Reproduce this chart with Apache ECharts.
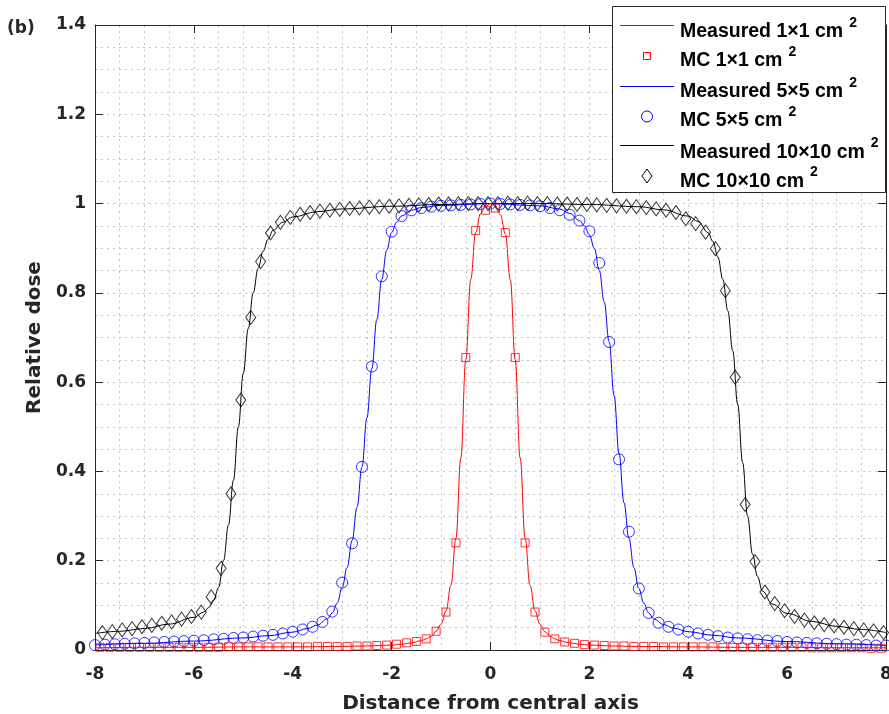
<!DOCTYPE html>
<html>
<head>
<meta charset="utf-8">
<script src="https://cdn.jsdelivr.net/npm/echarts@6/dist/echarts.min.js"></script>
<style>html,body{margin:0;padding:0;background:#fff;}#c{width:889px;height:714px;}</style>
</head>
<body>
<div id="c"></div>
<script>
// ---------- data ----------
const xTicks = [-8, -6, -4, -2, 0, 2, 4, 6, 8];
const yTicks = [0, 0.2, 0.4, 0.6, 0.8, 1, 1.2, 1.4];

const names = ['Measured 1×1 cm2', 'MC 1×1 cm2', 'Measured 5×5 cm2', 'MC 5×5 cm2', 'Measured 10×10 cm2', 'MC 10×10 cm2'];

// Measured 1x1
const xMeas1 = [-8,-7,-6,-5,-4,-3,-2.5,-2,-1.8,-1.6,-1.4,-1.3,-1.2,-1.1,-1.0,-0.9,-0.8,-0.7,-0.6,-0.5,-0.4,-0.3,-0.2,-0.1,0,0.1,0.2,0.3,0.4,0.5,0.6,0.7,0.8,0.9,1.0,1.1,1.2,1.3,1.4,1.6,1.8,2,2.5,3,4,5,6,7,8];
const yMeas1 = [0.005,0.006,0.006,0.007,0.007,0.008,0.009,0.011,0.013,0.016,0.021,0.025,0.031,0.042,0.058,0.088,0.145,0.25,0.43,0.65,0.83,0.935,0.978,0.994,1.0,0.995,0.975,0.932,0.83,0.65,0.43,0.25,0.145,0.088,0.058,0.041,0.031,0.025,0.021,0.016,0.013,0.011,0.009,0.008,0.007,0.006,0.006,0.005,0.005];

// MC 1x1
const xMC1 = [-7.9,-7.7,-7.5,-7.3,-7.1,-6.9,-6.7,-6.5,-6.3,-6.1,-5.9,-5.7,-5.5,-5.3,-5.1,-4.9,-4.7,-4.5,-4.3,-4.1,-3.9,-3.7,-3.5,-3.3,-3.1,-2.9,-2.7,-2.5,-2.3,-2.1,-1.9,-1.7,-1.5,-1.3,-1.1,-0.9,-0.7,-0.5,-0.3,-0.1,0.1,0.3,0.5,0.7,0.9,1.1,1.3,1.5,1.7,1.9,2.1,2.3,2.5,2.7,2.9,3.1,3.3,3.5,3.7,3.9,4.1,4.3,4.5,4.7,4.9,5.1,5.3,5.5,5.7,5.9,6.1,6.3,6.5,6.7,6.9,7.1,7.3,7.5,7.7,7.9];
const yMC1 = [0.006,0.006,0.006,0.006,0.006,0.006,0.006,0.006,0.006,0.006,
              0.006,0.006,0.006,0.007,0.007,0.007,0.007,0.007,0.007,0.007,
              0.007,0.007,0.008,0.008,0.008,0.008,0.009,0.009,0.010,0.011,
              0.013,0.016,0.019,0.025,0.042,0.085,0.24,0.655,0.94,0.985,
              0.99,0.935,0.655,0.24,0.085,0.04,0.025,0.018,0.015,0.012,
              0.011,0.010,0.009,0.009,0.008,0.008,0.008,0.007,0.007,0.007,
              0.007,0.007,0.007,0.006,0.006,0.006,0.006,0.006,0.006,0.006,
              0.006,0.006,0.005,0.005,0.005,0.005,0.005,0.005,0.004,0.004];

// Measured 5x5
const xMeas5 = [-8,-7,-6,-5,-4.5,-4,-3.7,-3.5,-3.3,-3.2,-3.1,-3.0,-2.9,-2.8,-2.7,-2.6,-2.5,-2.4,-2.3,-2.2,-2.1,-2.0,-1.9,-1.8,-1.6,-1.4,-1.0,0,1.0,1.4,1.6,1.8,1.9,2.0,2.1,2.2,2.3,2.4,2.5,2.6,2.7,2.8,2.9,3.0,3.1,3.2,3.3,3.5,3.7,4.0,4.5,5,6,7,8];
const yMeas5 = [0.011,0.015,0.020,0.027,0.032,0.040,0.048,0.056,0.070,0.083,0.105,0.14,0.185,0.245,0.32,0.41,0.52,0.63,0.74,0.83,0.895,0.935,0.958,0.972,0.985,0.991,0.996,1.0,0.995,0.988,0.978,0.962,0.95,0.93,0.9,0.85,0.78,0.69,0.57,0.44,0.33,0.25,0.185,0.138,0.105,0.083,0.07,0.057,0.049,0.041,0.033,0.027,0.019,0.014,0.010];

// MC 5x5
const xMC5 = [-8,-7.8,-7.6,-7.4,-7.2,-7,-6.8,-6.6,-6.4,-6.2,-6,-5.8,-5.6,-5.4,-5.2,-5,-4.8,-4.6,-4.4,-4.2,-4,-3.8,-3.6,-3.4,-3.2,-3,-2.8,-2.6,-2.4,-2.2,-2,-1.8,-1.6,-1.4,-1.2,-1,-0.8,-0.6,-0.4,-0.2,0,0.2,0.4,0.6,0.8,1,1.2,1.4,1.6,1.8,2,2.2,2.4,2.6,2.8,3,3.2,3.4,3.6,3.8,4,4.2,4.4,4.6,4.8,5,5.2,5.4,5.6,5.8,6,6.2,6.4,6.6,6.8,7,7.2,7.4,7.6,7.8,8];
const yMC5 = [0.011,0.012,0.013,0.014,0.015,0.016,0.017,0.018,0.019,0.020,
              0.021,0.022,0.024,0.025,0.027,0.028,0.030,0.032,0.034,0.037,
              0.041,0.046,0.052,0.063,0.086,0.151,0.239,0.41,0.635,0.837,
              0.937,0.972,0.985,0.99,0.993,0.995,0.996,0.997,0.998,0.999,
              1.0,0.999,0.998,0.997,0.996,0.994,0.99,0.985,0.975,0.962,
              0.938,0.867,0.69,0.427,0.265,0.138,0.083,0.061,0.052,0.046,
              0.041,0.037,0.034,0.031,0.028,0.026,0.024,0.022,0.021,0.020,
              0.018,0.017,0.016,0.015,0.014,0.013,0.012,0.012,0.011,0.010,0.010];

// Measured 10x10
const xMeas10 = [-8,-7.5,-7,-6.5,-6,-5.8,-5.7,-5.6,-5.5,-5.4,-5.3,-5.2,-5.1,-5.0,-4.9,-4.8,-4.7,-4.6,-4.5,-4.4,-4.2,-4.0,-3.5,-3,-2,-1,0,1,2,3,3.5,4,4.2,4.4,4.5,4.6,4.7,4.8,4.9,5.0,5.1,5.2,5.3,5.4,5.5,5.7,6,6.5,7,7.5,8];
const yMeas10 = [0.037,0.042,0.048,0.058,0.073,0.085,0.095,0.112,0.14,0.2,0.28,0.38,0.5,0.62,0.72,0.8,0.855,0.893,0.92,0.94,0.958,0.97,0.982,0.988,0.994,0.998,1.0,1.0,0.998,0.993,0.986,0.972,0.96,0.935,0.915,0.88,0.83,0.76,0.67,0.55,0.42,0.3,0.215,0.165,0.132,0.103,0.082,0.064,0.053,0.046,0.039];

// MC 10x10
const xMC10 = [-7.85,-7.65,-7.45,-7.25,-7.05,-6.85,-6.65,-6.45,-6.25,-6.05,-5.85,-5.65,-5.45,-5.25,-5.05,-4.85,-4.65,-4.45,-4.25,-4.05,-3.85,-3.65,-3.45,-3.25,-3.05,-2.85,-2.65,-2.45,-2.25,-2.05,-1.85,-1.65,-1.45,-1.25,-1.05,-0.85,-0.65,-0.45,-0.25,-0.05,0.15,0.35,0.55,0.75,0.95,1.15,1.35,1.55,1.75,1.95,2.15,2.35,2.55,2.75,2.95,3.15,3.35,3.55,3.75,3.95,4.15,4.35,4.55,4.75,4.95,5.15,5.35,5.55,5.75,5.95,6.15,6.35,6.55,6.75,6.95,7.15,7.35,7.55,7.75,7.95];
const yMC10 = [0.039,0.041,0.045,0.048,0.052,0.055,0.060,0.063,0.069,0.075,
               0.085,0.119,0.183,0.35,0.56,0.745,0.87,0.934,0.958,0.969,
               0.976,0.980,0.983,0.985,0.987,0.989,0.990,0.992,0.993,0.994,
               0.995,0.996,0.997,0.998,0.999,0.999,1.0,1.0,1.0,1.0,
               1.0,1.001,1.0,1.001,1.0,1.0,0.999,0.999,0.998,0.998,
               0.997,0.996,0.995,0.994,0.993,0.991,0.988,0.985,0.980,0.966,
               0.955,0.936,0.899,0.805,0.611,0.326,0.198,0.130,0.104,0.088,
               0.075,0.067,0.061,0.057,0.054,0.051,0.048,0.045,0.043,0.039];

// ---------- build ----------
const pairs = (xs, ys) => xs.map((x, i) => [x, ys[i]]);
const TXT = '#262626';
const tickFont = {fontFamily: 'DejaVu Sans', fontWeight: 'bold', fontSize: 17, color: TXT};
const gridLine = {lineStyle: {color: '#c4c4c4', width: 1, type: [2, 4]}};

function lineSeries(name, xs, ys, color) {
  return {type: 'line', name, data: pairs(xs, ys), symbol: 'none', smooth: 0.4, smoothMonotone: 'x',
          lineStyle: {color, width: 1}, itemStyle: {color}, silent: true};
}
function mcSeries(name, xs, ys, color, symbol, size) {
  return {type: 'scatter', name, data: pairs(xs, ys), symbol, symbolSize: size,
          itemStyle: {color: 'rgba(255,255,255,0)', borderColor: color, borderWidth: 1}, silent: true};
}

// legend box (drawn as graphic so that sample sizes match the figure)
const LEG_X = 620, LEG_W = 54, LEG_TX = 680;
const legRows = [32, 61, 92, 121, 152.5, 181.5];
const legFont = 'Liberation Sans, Arial, sans-serif';
function legText(name, y) {
  return {type: 'text', z: 11, x: LEG_TX, y, silent: true,
          style: {text: name.replace(/cm2$/, 'cm{sup|2}'), fill: '#000', fontFamily: legFont, fontWeight: 'bold', fontSize: 19.5,
                  verticalAlign: 'middle', align: 'left',
                  rich: {sup: {fontFamily: legFont, fontWeight: 'bold', fontSize: 14, fill: '#000', padding: [0, 0, 18, 6]}}}};
}
const legendGraphic = [
  {type: 'rect', z: 10, silent: true, shape: {x: 612.5, y: 6.5, width: 273, height: 186},
   style: {fill: '#fff', stroke: '#262626', lineWidth: 1}},
  {type: 'rect', z: 12, silent: true, shape: {x: LEG_X, y: 25, width: LEG_W, height: 1}, style: {fill: '#ff0000'}},
  {type: 'rect', z: 11, silent: true, shape: {x: 643.5, y: 52.5, width: 7, height: 7}, style: {fill: 'none', stroke: '#ff0000', lineWidth: 1}},
  {type: 'rect', z: 12, silent: true, shape: {x: LEG_X, y: 86, width: LEG_W, height: 1}, style: {fill: '#0000ff'}},
  {type: 'circle', z: 11, silent: true, shape: {cx: 647, cy: 116.5, r: 5.5}, style: {fill: 'none', stroke: '#0000ff', lineWidth: 1}},
  {type: 'rect', z: 12, silent: true, shape: {x: LEG_X, y: 145, width: LEG_W, height: 1}, style: {fill: '#000000'}},
  {type: 'polygon', z: 11, silent: true, shape: {points: [[647, 169], [652, 176], [647, 183], [642, 176]]}, style: {fill: 'none', stroke: '#000', lineWidth: 1}}
].concat(names.map((n, i) => legText(n, legRows[i])));

const chart = echarts.init(document.getElementById('c'), null, {renderer: 'canvas'});
chart.setOption({
  animation: false,
  title: {text: '(b)', left: 7, top: 20, padding: 0,
          textStyle: {fontFamily: 'DejaVu Sans', fontWeight: 'bold', fontSize: 17, color: TXT}},
  grid: {left: 95, right: 3, top: 25, bottom: 64, containLabel: false, outerBoundsMode: 'none'},
  xAxis: [{
    type: 'value', min: xTicks[0], max: xTicks[xTicks.length - 1], interval: 2,
    name: 'Distance from central axis', nameLocation: 'middle', nameGap: 44,
    nameTextStyle: {fontFamily: 'DejaVu Sans', fontWeight: 'bold', fontSize: 20, color: TXT},
    axisLine: {onZero: false, lineStyle: {color: TXT, width: 1}},
    axisTick: {inside: true, length: 8, lineStyle: {color: TXT}},
    axisLabel: Object.assign({margin: 16}, tickFont),
    splitLine: Object.assign({show: true}, gridLine),
    minorTick: {show: false, splitNumber: 4},
    minorSplitLine: Object.assign({show: true}, gridLine)
  }, {
    type: 'value', position: 'top', min: xTicks[0], max: xTicks[xTicks.length - 1], interval: 2,
    axisLine: {onZero: false, lineStyle: {color: TXT, width: 1}},
    axisTick: {inside: true, length: 8, lineStyle: {color: TXT}},
    axisLabel: {show: false}, splitLine: {show: false}
  }],
  yAxis: [{
    type: 'value', min: yTicks[0], max: yTicks[yTicks.length - 1], interval: 0.2,
    name: 'Relative dose', nameLocation: 'middle', nameGap: 34,
    nameTextStyle: {fontFamily: 'DejaVu Sans', fontWeight: 'bold', fontSize: 20, color: TXT},
    axisLine: {show: true, onZero: false, lineStyle: {color: TXT, width: 1}},
    axisTick: {show: true, inside: true, length: 8, lineStyle: {color: TXT}},
    axisLabel: Object.assign({margin: 9, padding: [11, 0, 0, 0]}, tickFont),
    splitLine: Object.assign({show: true}, gridLine),
    minorTick: {show: false, splitNumber: 4},
    minorSplitLine: Object.assign({show: true}, gridLine)
  }, {
    type: 'value', position: 'right', min: yTicks[0], max: yTicks[yTicks.length - 1], interval: 0.2,
    axisLine: {show: true, onZero: false, lineStyle: {color: TXT, width: 1}},
    axisTick: {show: true, inside: true, length: 8, lineStyle: {color: TXT}},
    axisLabel: {show: false}, splitLine: {show: false}
  }],
  graphic: legendGraphic,
  series: [
    lineSeries(names[4], xMeas10, yMeas10, '#000000'),
    mcSeries(names[5], xMC10, yMC10, '#000000', 'diamond', [10, 14]),
    lineSeries(names[2], xMeas5, yMeas5, '#0000ff'),
    mcSeries(names[3], xMC5, yMC5, '#0000ff', 'circle', 11),
    lineSeries(names[0], xMeas1, yMeas1, '#ff0000'),
    mcSeries(names[1], xMC1, yMC1, '#ff0000', 'rect', 8)
  ]
});
</script>
</body>
</html>
